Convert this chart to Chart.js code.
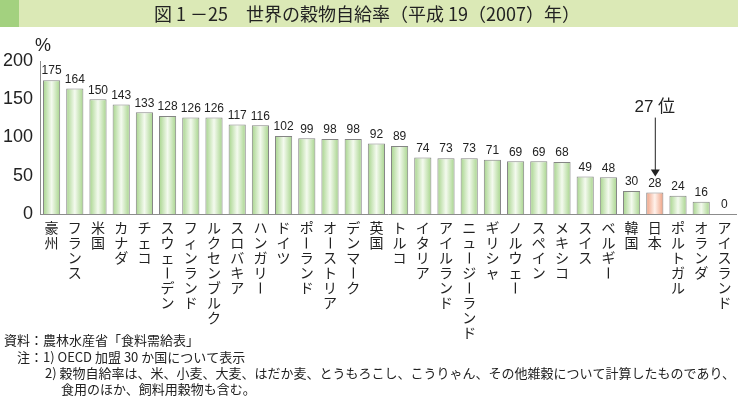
<!DOCTYPE html>
<html>
<head>
<meta charset="utf-8">
<script src="https://cdn.jsdelivr.net/npm/chart.js@4"></script>
<style>
  html, body { margin: 0; padding: 0; background: #fff; }
  canvas { display: block; }
</style>
</head>
<body>
<canvas id="grainChart" width="738" height="406"></canvas>
<script>
const categories = ['豪州', 'フランス', '米国', 'カナダ', 'チェコ', 'スウェーデン', 'フィンランド', 'ルクセンブルク',
  'スロバキア', 'ハンガリー', 'ドイツ', 'ポーランド', 'オーストリア', 'デンマーク', '英国', 'トルコ', 'イタリア',
  'アイルランド', 'ニュージーランド', 'ギリシャ', 'ノルウェー', 'スペイン', 'メキシコ', 'スイス', 'ベルギー',
  '韓国', '日本', 'ポルトガル', 'オランダ', 'アイスランド'];
const values = [175, 164, 150, 143, 133, 128, 126, 126, 117, 116, 102, 99, 98, 98, 92, 89, 74,
  73, 73, 71, 69, 69, 68, 49, 48, 30, 28, 24, 16, 0];
const yTicks = [0, 50, 100, 150, 200];
const highlight = '日本';
const rankLabel = '27 位';
const title = '図 1 －25　世界の穀物自給率（平成 19（2007）年）';
const notes = [
  ['資料：農林水産省「食料需給表」', 4, 340],
  ['注：1) OECD 加盟 30 か国について表示', 17, 357],
  ['2) 穀物自給率は、米、小麦、大麦、はだか麦、とうもろこし、こうりゃん、その他雑穀について計算したものであり、', 45, 373],
  ['食用のほか、飼料用穀物も含む。', 61, 389]
];

const JP = '"Noto Sans CJK JP", sans-serif';
const barPct = 0.74;

// horizontal gradient per bar, green or salmon for Japan
function barFill(c) {
  const chart = c.chart;
  const xs = chart.scales.x;
  if (!xs || !chart.chartArea) return '#b5db9c';
  const cx = xs.getPixelForValue(c.dataIndex);
  const w = xs.width / categories.length * barPct;
  const g = chart.ctx.createLinearGradient(cx - w / 2, 0, cx + w / 2, 0);
  const isJp = categories[c.dataIndex] === highlight;
  const edge = isJp ? '#ee9f80' : '#a6d48b';
  const mid = isJp ? '#fff2ec' : '#f4faef';
  g.addColorStop(0, edge);
  g.addColorStop(0.5, mid);
  g.addColorStop(1, edge);
  return g;
}

const decorations = {
  id: 'decorations',
  beforeDraw(chart) {
    const ctx = chart.ctx;
    ctx.save();
    ctx.fillStyle = '#fff';
    ctx.fillRect(0, 0, chart.width, chart.height);
    // title band
    ctx.fillStyle = '#dbe9b6';
    ctx.fillRect(0, 0, chart.width, 27);
    ctx.fillStyle = '#a3d17f';
    ctx.fillRect(0, 0, 19, 27);
    ctx.fillStyle = '#222';
    ctx.font = '18px ' + JP;
    ctx.textAlign = 'center';
    ctx.textBaseline = 'middle';
    ctx.fillText(title, 367, 14);
    // unit
    ctx.font = '18px "Liberation Sans", Arial, sans-serif';
    ctx.textAlign = 'left';
    ctx.fillText('%', 35, 46);
    ctx.restore();
  },
  afterDatasetsDraw(chart) {
    const ctx = chart.ctx;
    const meta = chart.getDatasetMeta(0);
    ctx.save();
    ctx.fillStyle = '#222';
    ctx.font = '12px "Liberation Sans", Arial, sans-serif';
    ctx.textAlign = 'center';
    ctx.textBaseline = 'bottom';
    meta.data.forEach((bar, i) => {
      ctx.fillText(String(values[i]), bar.x, bar.y - 3);
    });
    ctx.restore();
  },
  afterDraw(chart) {
    const ctx = chart.ctx;
    const xs = chart.scales.x;
    const ys = chart.scales.y;
    ctx.save();
    // vertical category labels
    ctx.fillStyle = '#222';
    ctx.font = '14px ' + JP;
    ctx.textAlign = 'center';
    ctx.textBaseline = 'middle';
    categories.forEach((name, i) => {
      const x = xs.getPixelForValue(i);
      Array.from(name).forEach((ch, k) => {
        const y = 228 + k * 15;
        if (ch === 'ー') {
          ctx.save();
          ctx.translate(x, y);
          ctx.rotate(Math.PI / 2);
          ctx.fillText(ch, 0, 0);
          ctx.restore();
        } else {
          ctx.fillText(ch, x, y);
        }
      });
    });
    // rank arrow for Japan
    const j = categories.indexOf(highlight);
    const ax = xs.getPixelForValue(j);
    const tip = ys.getPixelForValue(values[j]) - 16;
    ctx.strokeStyle = '#222';
    ctx.lineWidth = 1;
    ctx.beginPath();
    ctx.moveTo(ax + 0.5, tip - 59);
    ctx.lineTo(ax + 0.5, tip - 6);
    ctx.stroke();
    ctx.beginPath();
    ctx.moveTo(ax - 4, tip - 7);
    ctx.lineTo(ax + 5, tip - 7);
    ctx.lineTo(ax + 0.5, tip);
    ctx.closePath();
    ctx.fill();
    ctx.font = '17px "Liberation Sans", ' + JP;
    ctx.fillText(rankLabel, ax, tip - 69);
    // notes
    ctx.font = '13px ' + JP;
    ctx.textAlign = 'left';
    notes.forEach(([t, x, y]) => ctx.fillText(t, x, y));
    ctx.restore();
  }
};

new Chart(document.getElementById('grainChart'), {
  type: 'bar',
  data: {
    labels: categories,
    datasets: [{
      data: values,
      backgroundColor: barFill,
      borderColor: '#858585',
      borderWidth: 1,
      borderSkipped: 'bottom',
      barPercentage: barPct,
      categoryPercentage: 1
    }]
  },
  options: {
    responsive: false,
    animation: false,
    devicePixelRatio: 1,
    layout: { padding: { top: 61, left: 0, right: 2, bottom: 192 } },
    plugins: { legend: { display: false }, tooltip: { enabled: false } },
    scales: {
      x: {
        grid: { display: false, drawTicks: false },
        border: { display: true, color: '#8c8c8c' },
        ticks: { display: false },
        afterFit(scale) { scale.height = 0; }
      },
      y: {
        min: 0,
        max: 200,
        afterBuildTicks(scale) { scale.ticks = yTicks.map(v => ({ value: v })); },
        grid: { display: false, drawTicks: false },
        border: { display: true, color: '#8c8c8c' },
        ticks: {
          color: '#222',
          padding: 7,
          font: { size: 18, family: '"Liberation Sans", Arial, sans-serif' }
        },
        afterFit(scale) { scale.width = 40; }
      }
    }
  },
  plugins: [decorations]
});
</script>
</body>
</html>
